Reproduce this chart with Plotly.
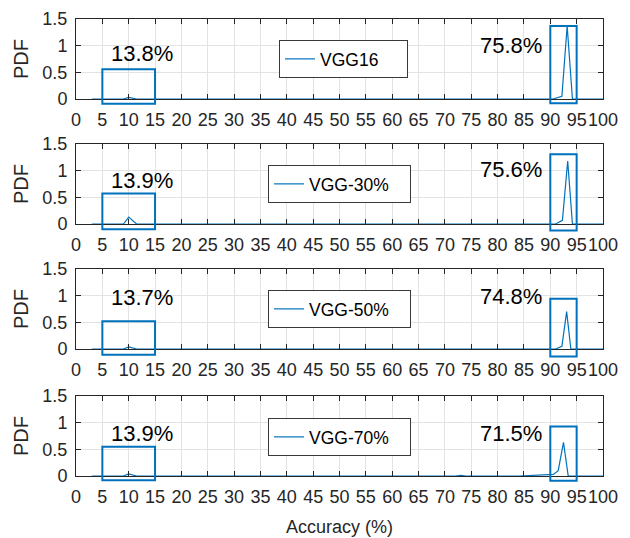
import plotly.graph_objects as go
from plotly.subplots import make_subplots

# ---------------- data ----------------
models = ["VGG16", "VGG-30%", "VGG-50%", "VGG-70%"]
low_labels = ["13.8%", "13.9%", "13.7%", "13.9%"]
high_labels = ["75.8%", "75.6%", "74.8%", "71.5%"]

x_vgg16 = [3, 9, 10, 11.5, 90.5, 92.2, 93.2, 94.2, 100]
y_vgg16 = [0, 0, 0.03, 0, 0, 0.05, 1.37, 0, 0]

x_vgg30 = [3, 9, 10, 11.5, 91, 91.7, 92.3, 93.3, 94.2, 100]
y_vgg30 = [0, 0, 0.13, 0, 0, 0.04, 0.07, 1.18, 0, 0]

x_vgg50 = [3, 9, 10, 11.5, 91, 91.5, 92.2, 93.1, 93.9, 100]
y_vgg50 = [0, 0, 0.04, 0, 0, 0.02, 0.05, 0.70, 0, 0]

x_vgg70 = [3, 9, 10, 11.5, 72, 73, 74, 82, 83, 84, 90.6, 91.5, 92.5, 93.4, 100]
y_vgg70 = [0, 0, 0.04, 0, 0, 0.01, 0, 0, 0.01, 0, 0.03, 0.10, 0.63, 0, 0]

xs = [x_vgg16, x_vgg30, x_vgg50, x_vgg70]
ys = [y_vgg16, y_vgg30, y_vgg50, y_vgg70]

# highlight boxes (data units)
low_box_x = [5, 15]
high_box_x = [90, 95]
low_box_top = [0.56, 0.57, 0.52, 0.55]
low_box_bot = [-0.09, -0.10, -0.11, -0.08]
high_box_top = [1.37, 1.31, 0.94, 0.93]
high_box_bot = [-0.08, -0.12, -0.14, -0.09]

low_label_y = [0.86, 0.82, 0.97, 0.79]
high_label_y = [1.00, 1.03, 0.99, 0.79]
low_label_x = 12.5
high_label_x = 82.5

x_ticks = list(range(0, 101, 5))
y_ticks = [0, 0.5, 1, 1.5]
y_ticktext = ["0", "0.5", "1", "1.5"]
YMAX = 1.5

# ---------------- layout helpers ----------------
OFF = 8  # default page body margin of the html page
W, H = 630 - OFF, 538 - OFF
ML, MR, MT, MB = 76 - OFF, 27, 4, 40
plot_h = H - MT - MB
panel_top_px = [19, 144, 269, 396]   # page pixels
panel_h_px = 80
legend_left_px = [279, 268, 268, 268]
legend_top_px = [40, 165, 290, 418]
legend_entry_w = [82, 96, 96, 96]

BLUE = "#0072BD"
AX = "#262626"
FONT = "Liberation Sans, Arial, Helvetica, sans-serif"

def pfrac(py):
    return (H - MB - (py - OFF)) / plot_h

def xfrac(px):
    return (px - OFF - ML) / (W - ML - MR)

fig = make_subplots(rows=4, cols=1)

for i in range(4):
    r = i + 1
    leg = "legend" if i == 0 else f"legend{r}"
    fig.add_trace(
        go.Scatter(x=xs[i], y=ys[i], mode="lines", name=models[i],
                   line=dict(color=BLUE, width=1.2), legend=leg),
        row=r, col=1)

layout_updates = {}
for i in range(4):
    r = i + 1
    sfx = "" if i == 0 else str(r)
    top = panel_top_px[i]
    dom = [pfrac(top + panel_h_px), pfrac(top)]
    layout_updates[f"yaxis{sfx}"] = dict(
        domain=dom, range=[0, YMAX], tickvals=y_ticks, ticktext=y_ticktext,
        showline=True, linecolor=AX, linewidth=1, mirror="ticks",
        ticks="inside", ticklen=5, tickcolor=AX,
        showgrid=True, gridcolor="#e3e3e3", gridwidth=1, zeroline=False,
        tickfont=dict(size=18, color=AX, family=FONT),
        ticklabelstandoff=4,
        title=dict(text="PDF", font=dict(size=20, color=AX, family=FONT), standoff=8),
    )
    layout_updates[f"xaxis{sfx}"] = dict(
        range=[0, 100], tickvals=x_ticks, ticktext=[str(t) for t in x_ticks],
        showline=True, linecolor=AX, linewidth=1, mirror="ticks",
        ticks="inside", ticklen=5, tickcolor=AX,
        showgrid=True, gridcolor="#e3e3e3", gridwidth=1, zeroline=False,
        tickfont=dict(size=18, color=AX, family=FONT),
        tickangle=0, ticklabelstandoff=4,
    )
    leg_name = "legend" if i == 0 else f"legend{r}"
    layout_updates[leg_name] = dict(
        x=xfrac(legend_left_px[i]),
        y=pfrac(legend_top_px[i]), xanchor="left", yanchor="top",
        orientation="h", entrywidth=legend_entry_w[i],
        bgcolor="white", bordercolor="#3a3a3a", borderwidth=1,
        font=dict(size=17.5, color="black", family=FONT),
    )

    xref = f"x{sfx}"
    yref = f"y{sfx} domain"
    # boxes
    fig.add_shape(type="rect", xref=xref, yref=yref,
                  x0=low_box_x[0], x1=low_box_x[1],
                  y0=low_box_bot[i] / YMAX, y1=low_box_top[i] / YMAX,
                  line=dict(color=BLUE, width=2), fillcolor="rgba(0,0,0,0)")
    fig.add_shape(type="rect", xref=xref, yref=yref,
                  x0=high_box_x[0], x1=high_box_x[1],
                  y0=high_box_bot[i] / YMAX, y1=high_box_top[i] / YMAX,
                  line=dict(color=BLUE, width=2), fillcolor="rgba(0,0,0,0)")
    # labels
    fig.add_annotation(x=low_label_x, y=low_label_y[i], xref=f"x{sfx}", yref=f"y{sfx}",
                       text=low_labels[i], showarrow=False,
                       font=dict(size=22, color="black", family=FONT))
    fig.add_annotation(x=high_label_x, y=high_label_y[i], xref=f"x{sfx}", yref=f"y{sfx}",
                       text=high_labels[i], showarrow=False,
                       font=dict(size=22, color="black", family=FONT))

layout_updates["xaxis4"]["title"] = dict(text="Accuracy (%)",
                                         font=dict(size=18, color=AX, family=FONT),
                                         standoff=14)

fig.update_layout(**layout_updates)
fig.update_layout(
    width=W, height=H,
    margin=dict(l=ML, r=MR, t=MT, b=MB, autoexpand=False),
    paper_bgcolor="white", plot_bgcolor="white",
    font=dict(family=FONT, color=AX),
    showlegend=True,
)

fig.write_html("out.html")
